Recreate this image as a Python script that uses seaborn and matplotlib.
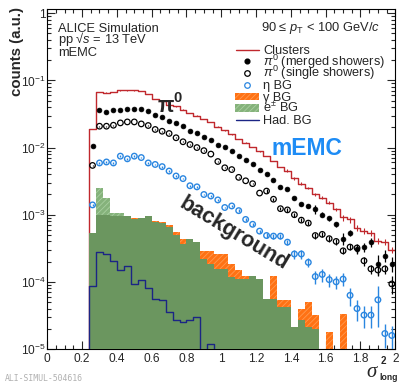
import numpy as np
import pandas as pd
import matplotlib
matplotlib.use("Agg")
import matplotlib.pyplot as plt
import seaborn as sns
from matplotlib.lines import Line2D
from matplotlib.patches import Rectangle
from matplotlib.ticker import FixedLocator, FixedFormatter, LogLocator, NullFormatter, MultipleLocator

# ---------------- data (bins of sigma^2_long, width 0.04, from 0.24 to 2.0) ----------------
bin_edges = [round(v, 2) for v in np.arange(0.24, 2.0001, 0.04)]
bin_centers = np.round(0.5 * (np.array(bin_edges[:-1]) + np.array(bin_edges[1:])), 2)

clusters = [0.019, 0.067, 0.066, 0.067, 0.071, 0.071, 0.071, 0.070, 0.063, 0.053,
            0.049, 0.0436, 0.0412, 0.0367, 0.0328, 0.0300, 0.0268, 0.0242, 0.0205, 0.0180,
            0.0158, 0.0134, 0.0118, 0.0102, 0.0088, 0.0075, 0.0063, 0.0051, 0.0045, 0.0035,
            0.0029, 0.0025, 0.0020, 0.0018, 0.0015, 0.0012, 0.00091, 0.00085, 0.00063, 0.00057,
            0.00053, 0.00041, 0.00039, 0.00030]
clusters_relerr = [0.01] * 28 + [0.05] * 8 + [0.1] * 8

pi0_merged = [0.0107, 0.0367, 0.034, 0.0359, 0.0367, 0.037, 0.037, 0.037, 0.0347, 0.0307,
              0.0286, 0.0247, 0.0233, 0.0208, 0.0175, 0.0162, 0.0145, 0.0129, 0.0111, 0.0101,
              0.0089, 0.0075, 0.0065, 0.0056, 0.0047, 0.0040, 0.0033, 0.0026, 0.0024, 0.00176,
              0.00143, 0.00135, 0.00121, 0.00100, 0.00088, 0.00072, 0.00044, 0.00053, 0.00031, 0.00033,
              0.00039, 0.000185, 0.000245, 0.000185]
pi0_merged_relerr = [0.01] * 29 + [0.05, 0.06, 0.06, 0.15, 0.08, 0.08, 0.1, 0.2, 0.1, 0.15,
                                   0.15, 0.15, 0.35, 0.2, 0.25]

pi0_single = [0.00542, 0.0208, 0.0208, 0.0215, 0.0233, 0.0241, 0.0241, 0.0225, 0.0213, 0.0186,
              0.0175, 0.0162, 0.0140, 0.0122, 0.0111, 0.0100, 0.0090, 0.0080, 0.0062, 0.0050,
              0.0047, 0.0036, 0.0032, 0.0029, 0.0021, 0.00225, 0.0017, 0.00123, 0.00118, 0.00100,
              0.00083, 0.00075, 0.00049, 0.00051, 0.00044, 0.00040, 0.00029, 0.00033, 0.00032, 0.000206,
              0.000156, 0.00015, 0.000156, 0.000093]
pi0_single_relerr = [0.01] * 25 + [0.08] + [0.06] * 6 + [0.1] * 6 + [0.15] * 5 + [0.3]

eta_bg = [0.0014, 0.0059, 0.0061, 0.0059, 0.00745, 0.0068, 0.00745, 0.0071, 0.0059, 0.0056,
          0.0052, 0.00447, 0.00377, 0.00345, 0.0027, 0.0026, 0.0020, 0.0019, 0.00166, 0.00128,
          0.00135, 0.00115, 0.00085, 0.00072, 0.00057, 0.00049, 0.00048, 0.00048, 0.00039, 0.00026,
          0.00026, 0.000195, 0.00012, 0.000129, 0.000108, 0.0001, 0.00011, 0.000063, 0.00004, 0.000032,
          0.000032, 0.000054, 0.000017, 0.0000159]
eta_bg_relerr = [0.03] * 21 + [0.05] * 4 + [0.08] * 4 + [0.15] * 3 + [0.22] * 5 + [0.3, 0.35, 0.35, 0.35,
                                                                                   0.6, 0.4, 0.4]

gamma_bg = [5.4e-4, 1.0e-3, 1.0e-3, 9.6e-4, 9.6e-4, 9.6e-4, 8.9e-4, 9.0e-4, 9.7e-4, 8.0e-4,
            7.7e-4, 7.0e-4, 5.5e-4, 4.4e-4, 4.35e-4, 3.9e-4, 2.9e-4, 2.9e-4, 2.6e-4, 2.6e-4,
            1.85e-4, 1.5e-4, 1.24e-4, 1.24e-4, 1.1e-4, 5.6e-5, 1.24e-4, 5.3e-5, 5.3e-5, 2.1e-5,
            4.0e-5, 5.0e-5, 3.2e-5, 0, 1.8e-5, 0, 3.3e-5, 0, 0, 0,
            0, 0, 0, 0]

electron_bg = [5.4e-4, 2.5e-3, 1.8e-3, 1.05e-3, 1.05e-3, 9.6e-4, 8.6e-4, 9.0e-4, 9.7e-4, 7.7e-4,
               7.4e-4, 6.5e-4, 5.0e-4, 3.7e-4, 4.3e-4, 3.9e-4, 2.2e-4, 1.85e-4, 1.56e-4, 1.56e-4,
               1.17e-4, 1.1e-4, 1.1e-4, 1.24e-4, 1.1e-4, 5.6e-5, 5.6e-5, 4.2e-5, 4.2e-5, 2.1e-5,
               2.7e-5, 2.1e-5, 2.0e-5, 0, 0, 0, 0, 0, 0, 0,
               0, 0, 0, 0]

hadron_bg = [8.6e-5, 2.8e-4, 2.6e-4, 2.06e-4, 1.52e-4, 1.74e-4, 9.3e-5, 1.08e-4, 8.0e-5, 5.6e-5,
             5.3e-5, 3.5e-5, 2.66e-5, 2.5e-5, 2.66e-5, 3.0e-5, 0, 1.2e-5, 0, 0,
             0, 0, 0, 0, 0, 0, 0, 0, 0, 0,
             0, 0, 0, 0, 0, 0, 0, 0, 0, 0,
             0, 0, 0, 0]

xtick_values = [0, 0.2, 0.4, 0.6, 0.8, 1.0, 1.2, 1.4, 1.6, 1.8, 2.0]
xtick_labels = ["0", "0.2", "0.4", "0.6", "0.8", "1", "1.2", "1.4", "1.6", "1.8", "2"]
ytick_values = [1e-5, 1e-4, 1e-3, 1e-2, 1e-1, 1]
ytick_labels = [r"$10^{-5}$", r"$10^{-4}$", r"$10^{-3}$", r"$10^{-2}$", r"$10^{-1}$", "1"]

legend_labels = ["Clusters", r"$\pi^{0}$ (merged showers)", r"$\pi^{0}$ (single showers)",
                 "η BG", "γ BG", r"e$^{\pm}$ BG", "Had. BG"]

# ---------------- style ----------------
RED = "#c0282d"
NAVY = "#1b2585"
BLUE = "#2a86e0"
ORANGE = "#ff7214"
ORANGE_H = "#ff9a50"
DGREEN = "#6b965f"
LGREEN = "#85b27b"
LGREEN_H = "#a8cfa0"

sns.set_style("ticks")
plt.rcParams.update({
    "font.family": ["Liberation Sans", "DejaVu Sans"],
    "mathtext.fontset": "custom",
    "mathtext.rm": "Liberation Sans",
    "mathtext.it": "Liberation Sans:italic",
    "mathtext.bf": "Liberation Sans:bold",
    "hatch.linewidth": 0.6,
    "axes.linewidth": 0.8,
})

W, H = 406, 387
def fx(px):
    return px / W
def fy(py):
    return 1 - py / H

fig = plt.figure(figsize=(W / 100, H / 100), dpi=100)
ax = fig.add_axes([fx(47.3), fy(349), (395.3 - 47.3) / W, (349 - 9.3) / H])
ax.set_yscale("log")

df = pd.DataFrame({
    "x": bin_centers,
    "clusters": clusters,
    "gamma": gamma_bg,
    "electron": electron_bg,
    "hadron": hadron_bg,
})
df["overlap"] = np.minimum(df["gamma"], df["electron"])

def hist(col, **kw):
    sns.histplot(data=df, x="x", weights=col, bins=bin_edges, element="step", ax=ax, **kw)
    return ax.collections[-1] if kw.get("fill") else ax.lines[-1]

# red cluster histogram (behind the fills)
hist("clusters", fill=False, color=RED, linewidth=1.0, zorder=1)
ax.vlines(bin_edges[0], 1e-6, clusters[0], color=RED, linewidth=1.0, zorder=1)
ax.errorbar(bin_centers, clusters, yerr=np.array(clusters) * np.array(clusters_relerr),
            fmt="none", ecolor=RED, elinewidth=0.8, zorder=1)

# gamma BG (orange, hatched)
art = hist("gamma", fill=True, color=ORANGE, alpha=1.0, linewidth=0, zorder=2)
art.set_hatch("//////")
art.set_edgecolor(ORANGE_H)
# e+- BG (light green, hatched)
art = hist("electron", fill=True, color=LGREEN, alpha=1.0, linewidth=0, zorder=3)
art.set_hatch("//////")
art.set_edgecolor(LGREEN_H)
# overlap of the two (appears dark green)
hist("overlap", fill=True, color=DGREEN, alpha=1.0, linewidth=0, zorder=4)

# hadron BG line
hist("hadron", fill=False, color=NAVY, linewidth=1.0, zorder=5)
ax.vlines(bin_edges[0], 1e-6, hadron_bg[0], color=NAVY, linewidth=1.0, zorder=5)

# points with error bars
ax.errorbar(bin_centers, eta_bg, yerr=np.array(eta_bg) * np.array(eta_bg_relerr),
            fmt="none", ecolor=BLUE, elinewidth=1.0, zorder=6)
ax.errorbar(bin_centers, pi0_single, yerr=np.array(pi0_single) * np.array(pi0_single_relerr),
            fmt="none", ecolor="black", elinewidth=0.9, zorder=6)
ax.errorbar(bin_centers, pi0_merged, yerr=np.array(pi0_merged) * np.array(pi0_merged_relerr),
            fmt="none", ecolor="black", elinewidth=0.9, zorder=6)

sns.scatterplot(x=bin_centers, y=eta_bg, marker="o", s=16, fc="none", ec=BLUE,
                linewidth=1.0, ax=ax, zorder=7)
sns.scatterplot(x=bin_centers, y=pi0_single, marker="o", s=16, fc="none", ec="black",
                linewidth=0.9, ax=ax, zorder=7)
sns.scatterplot(x=bin_centers, y=pi0_merged, marker="o", s=12, fc="black", ec="black",
                linewidth=0.5, ax=ax, zorder=8)

# ---------------- axes ----------------
ax.set_xlim(0, 2)
ax.set_ylim(1e-5, 1.146)
ax.set_xlabel("")
ax.set_ylabel("")
ax.xaxis.set_major_locator(FixedLocator(xtick_values))
ax.xaxis.set_major_formatter(FixedFormatter(xtick_labels))
ax.xaxis.set_minor_locator(MultipleLocator(0.05))
ax.yaxis.set_major_locator(FixedLocator(ytick_values))
ax.yaxis.set_major_formatter(FixedFormatter(ytick_labels))
ax.yaxis.set_minor_locator(LogLocator(base=10, subs=np.arange(2, 10)))
ax.yaxis.set_minor_formatter(NullFormatter())
ax.tick_params(which="both", direction="in", top=True, right=True, width=0.8, labelsize=8.6)
ax.tick_params(which="major", length=5.5)
ax.tick_params(which="minor", length=3)
ax.tick_params(axis="x", pad=3)
ax.tick_params(axis="y", pad=1.5)
for sp in ax.spines.values():
    sp.set_visible(True)
    sp.set_color("black")

# ---------------- legend (ROOT-like, fixed row pitch) ----------------
row_y0, row_dy = 49.7, 11.7
sw_l, sw_r, sw_c, txt_x = 236, 258.5, 247, 263
for i, lab in enumerate(legend_labels):
    yc = row_y0 + i * row_dy
    fig.text(fx(txt_x), fy(yc + 4.3), lab, fontsize=9.2, ha="left", va="baseline")
    if i in (0, 6):
        fig.add_artist(Line2D([fx(sw_l), fx(sw_r)], [fy(yc), fy(yc)], transform=fig.transFigure,
                              color=RED if i == 0 else NAVY, lw=1.0))
    elif i == 1:
        fig.add_artist(Line2D([fx(sw_c)], [fy(yc)], transform=fig.transFigure, marker="o",
                              ls="none", color="black", markersize=3.4))
    elif i in (2, 3):
        fig.add_artist(Line2D([fx(sw_c)], [fy(yc)], transform=fig.transFigure, marker="o",
                              ls="none", mfc="none", mec="black" if i == 2 else BLUE,
                              markersize=4.0, mew=0.9))
    else:
        fc, hc = (ORANGE, ORANGE_H) if i == 4 else (LGREEN, LGREEN_H)
        fig.add_artist(Rectangle((fx(sw_l - 0.5), fy(yc + 3.7)), fx(sw_r - sw_l + 1), 7.4 / H,
                                 transform=fig.transFigure, facecolor=fc, edgecolor=hc,
                                 hatch="//////", linewidth=0))

# ---------------- texts ----------------
fig.text(fx(58), fy(31.5), "ALICE Simulation", fontsize=9.3, ha="left", va="baseline")
fig.text(fx(58), fy(43.5), r"pp √$s$ = 13 TeV", fontsize=9.3, ha="left", va="baseline")
fig.text(fx(58), fy(55.5), "mEMC", fontsize=9.3, ha="left", va="baseline")
fig.text(fx(380), fy(31.5), r"90 ≤ $p_{\mathrm{T}}$ < 100 GeV/$c$", fontsize=9.3,
         ha="right", va="baseline")

fig.text(fx(157.5), fy(112.5), "π", fontsize=15.5, fontweight="bold", ha="left", va="baseline")
fig.text(fx(173), fy(102), "0", fontsize=10.5, fontweight="bold", ha="left", va="baseline")
fig.text(fx(307), fy(149), "mEMC", fontsize=16.5, fontweight="bold", color="#1e8cf5",
         ha="center", va="center")
fig.text(fx(234), fy(234), "background", fontsize=15.5, fontweight="bold", rotation=-31,
         rotation_mode="anchor", ha="center", va="center")

fig.text(fx(17), fy(52), "counts (a.u.)", fontsize=10.8, fontweight="bold", rotation=90,
         ha="center", va="center")
fig.text(fx(366), fy(377), "σ", fontsize=15, style="italic",
         family=["Liberation Serif", "DejaVu Serif"], ha="left", va="baseline")
fig.text(fx(381), fy(364), "2", fontsize=7, fontweight="bold", ha="left", va="baseline")
fig.text(fx(379), fy(380), "long", fontsize=6.2, fontweight="bold", ha="left", va="baseline")

fig.text(fx(5), fy(381), "ALI-SIMUL-504616", fontsize=5.9, color="#b0b0b0",
         family=["DejaVu Sans Mono"], ha="left", va="baseline")

fig.savefig("out.png", dpi=100)
